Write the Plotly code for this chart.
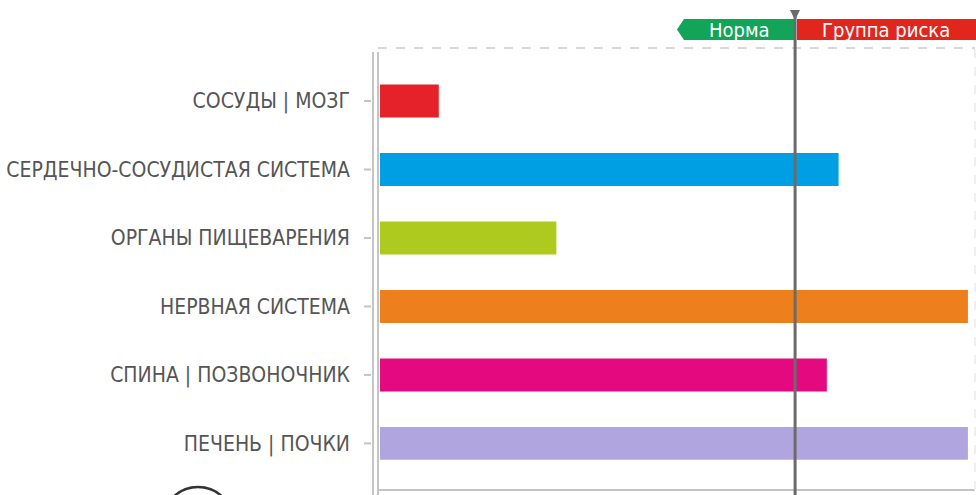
import plotly.graph_objects as go

categories = ["СОСУДЫ | МОЗГ", "СЕРДЕЧНО-СОСУДИСТАЯ СИСТЕМА", "ОРГАНЫ ПИЩЕВАРЕНИЯ",
              "НЕРВНАЯ СИСТЕМА", "СПИНА | ПОЗВОНОЧНИК", "ПЕЧЕНЬ | ПОЧКИ"]
values = [10, 78, 30, 100, 76, 100]
colors = ["#e52229", "#009fe3", "#afca1e", "#ee7f1d", "#e5097f", "#b1a5e0"]
threshold = 70.6
zone_labels = ["Норма", "Группа риска"]

W, H = 976, 495
L, R, T, B = 380, 1, 48, 5
pw, ph = W - L - R, H - T - B

def px2x(px):
    return (px - L) / pw

def py2y(py):
    return (H - B - py) / ph

fig = go.Figure()
fig.add_trace(go.Bar(
    y=categories, x=values, orientation="h",
    marker=dict(color=colors, line=dict(width=0)),
    width=0.48, showlegend=False, hoverinfo="x+y",
))

font_family = "DejaVu Sans Condensed, DejaVu Sans, sans-serif"

fig.update_layout(
    width=W, height=H,
    margin=dict(l=L, r=R, t=T, b=B),
    paper_bgcolor="white", plot_bgcolor="white",
    xaxis=dict(range=[0, 101.2], showgrid=False, zeroline=False,
               showticklabels=False, showline=False, fixedrange=True),
    yaxis=dict(type="category", categoryorder="array", categoryarray=categories,
               range=[5.68, -0.774], showgrid=False, zeroline=False, showline=False,
               ticks="", ticklabelstandoff=29,
               tickfont=dict(family=font_family, size=21, color="#555555")),
    font=dict(family=font_family),
)

shapes = []
# double left axis line
for xp in (373, 378):
    shapes.append(dict(type="line", xref="paper", yref="paper",
                       x0=px2x(xp), x1=px2x(xp), y0=py2y(495), y1=py2y(52),
                       line=dict(color="#c4c4c4", width=2)))
# tick marks
for i in range(len(categories)):
    shapes.append(dict(type="line", xref="paper", yref="y",
                       x0=px2x(364), x1=px2x(371), y0=i, y1=i,
                       line=dict(color="#c4c4c4", width=2)))
# bottom axis line
shapes.append(dict(type="line", xref="paper", yref="paper",
                   x0=px2x(377), x1=1, y0=py2y(490), y1=py2y(490),
                   line=dict(color="#c4c4c4", width=2)))
# top dashed line
shapes.append(dict(type="line", xref="paper", yref="paper",
                   x0=px2x(378), x1=1, y0=1, y1=1,
                   line=dict(color="#d8d8d8", width=2, dash="dash")))
# right dashed line
shapes.append(dict(type="line", xref="paper", yref="paper",
                   x0=px2x(975), x1=px2x(975), y0=0, y1=1,
                   line=dict(color="#efefef", width=2, dash="dash")))
# zone boxes
gx0 = px2x(677)
gx1 = px2x(795)
gy0, gy1 = py2y(40), py2y(19)
gym = (gy0 + gy1) / 2
cham = px2x(684) - px2x(677)
shapes.append(dict(type="path", xref="paper", yref="paper",
                   path=f"M {gx0 + cham},{gy1} L {gx1},{gy1} L {gx1},{gy0} L {gx0 + cham},{gy0} L {gx0},{gym} Z",
                   fillcolor="#12a55a", line=dict(width=0)))
shapes.append(dict(type="rect", xref="paper", yref="paper",
                   x0=px2x(797), x1=1.01, y0=gy0, y1=gy1,
                   fillcolor="#e1261d", line=dict(width=0)))
# threshold line
shapes.append(dict(type="line", xref="x", yref="paper",
                   x0=threshold, x1=threshold, y0=py2y(500), y1=py2y(12),
                   line=dict(color="#6b6b6b", width=3)))
shapes.append(dict(type="path", xref="paper", yref="paper",
                   path=f"M {px2x(790)},{py2y(10)} L {px2x(800)},{py2y(10)} L {px2x(796)},{py2y(18)} L {px2x(794)},{py2y(18)} Z",
                   fillcolor="#6b6b6b", line=dict(width=0)))
# decorative circle at bottom-left
shapes.append(dict(type="circle", xref="paper", yref="paper",
                   x0=px2x(162), x1=px2x(234), y0=py2y(560), y1=py2y(487),
                   line=dict(color="#333333", width=2.5)))
fig.update_layout(shapes=shapes)

fig.add_annotation(xref="paper", yref="paper", x=(gx0 + cham + gx1) / 2, y=gym,
                   xanchor="center", yanchor="middle",
                   text=zone_labels[0], showarrow=False,
                   font=dict(family=font_family, size=20, color="white"))
fig.add_annotation(xref="paper", yref="paper", x=(px2x(797) + 1) / 2, y=gym,
                   xanchor="center", yanchor="middle",
                   text=zone_labels[1], showarrow=False,
                   font=dict(family=font_family, size=20, color="white"))

fig.write_html("out.html", config={"displayModeBar": False})
with open("out.html", encoding="utf-8") as f:
    html = f.read()
html = html.replace("<head>", "<head><style>html,body{margin:0;padding:0;overflow:hidden;}</style>", 1)
with open("out.html", "w", encoding="utf-8") as f:
    f.write(html)
